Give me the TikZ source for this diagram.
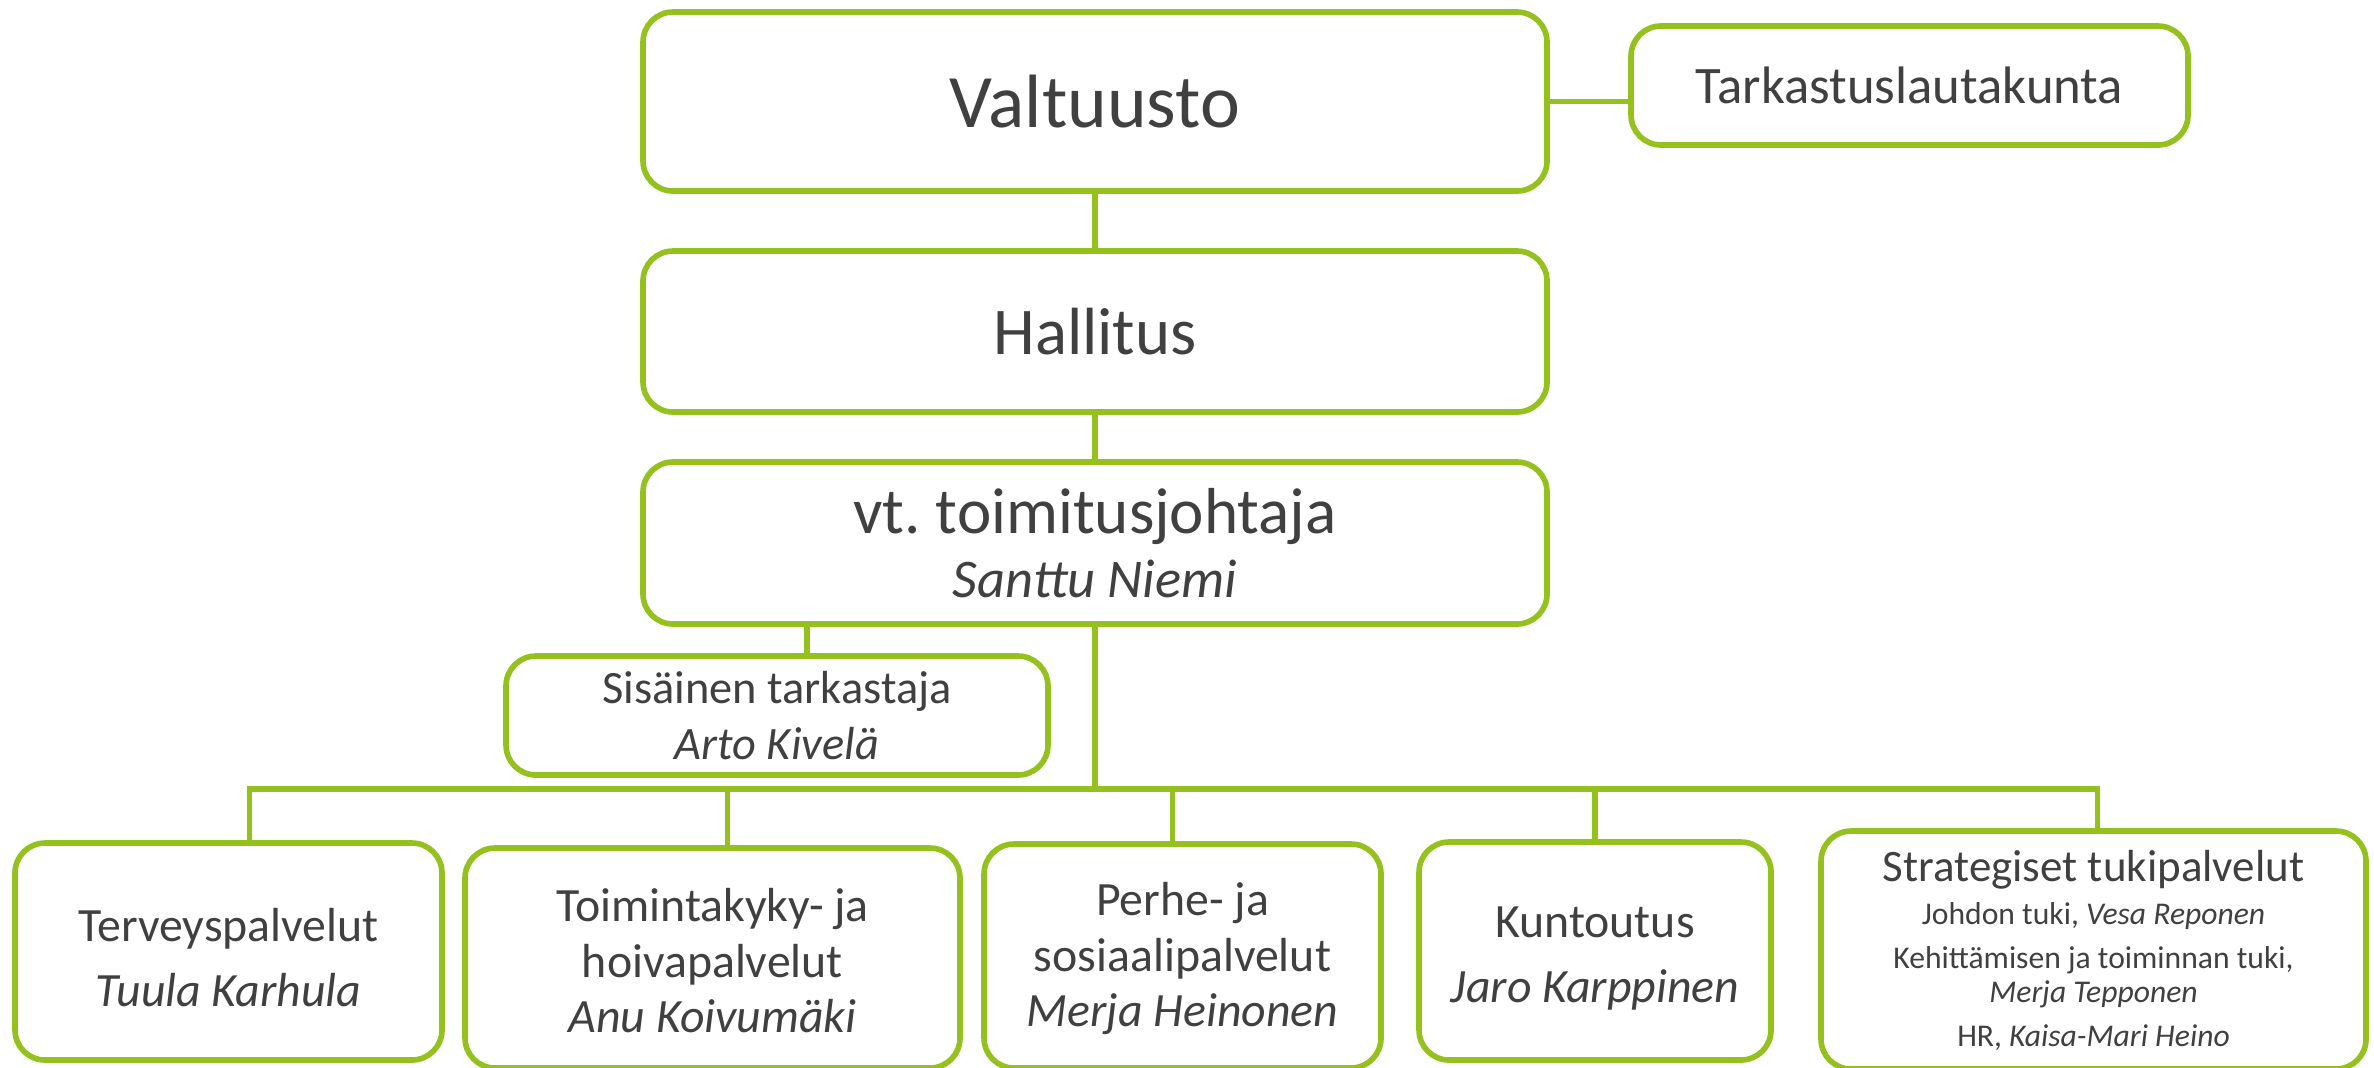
\documentclass[tikz,border=0pt]{standalone}
\usepackage{fontspec}
\setmainfont{Carlito}
\usepackage{tikz}
\usetikzlibrary{positioning}
\definecolor{orggreen}{RGB}{149,193,31}
\definecolor{orgtext}{RGB}{64,64,64}
\frenchspacing

\begin{document}
\begin{tikzpicture}[
    orgbox/.style={draw=orggreen, line width=1.6pt, rounded corners=0.3cm,
      fill=white, align=center, text=orgtext, inner sep=0pt},
    link/.style={draw=orggreen, line width=1.6pt}
  ]
  \useasboundingbox (0,0) rectangle (23.74,-10.67);

  % council, board and managing director
  \node[orgbox, minimum width=9.04cm, minimum height=1.79cm,
    font=\fontsize{21.5}{25}\selectfont] (val) at (10.95,-1.015) {Valtuusto};
  \node[orgbox, minimum width=5.57cm, minimum height=1.19cm,
    font=\fontsize{15}{18}\selectfont] (tar) at (19.095,-0.855) {Tarkastuslautakunta};
  \node[orgbox, minimum width=9.04cm, minimum height=1.61cm,
    font=\fontsize{19}{23}\selectfont] (hal) at (10.95,-3.315) {Hallitus};
  \node[orgbox, minimum width=9.04cm, minimum height=1.62cm,
    font=\fontsize{18.5}{18}\selectfont] (vtj) at (10.95,-5.43)
    {vt. toimitusjohtaja\\{\fontsize{15.5}{18}\selectfont\textit{Santtu Niemi}}};

  % internal auditor
  \node[orgbox, minimum width=5.42cm, minimum height=1.19cm,
    font=\fontsize{13.2}{16}\selectfont] (sis) at (7.77,-7.155)
    {Sisäinen tarkastaja\\\textit{Arto Kivelä}};

  % service areas
  \node[orgbox, minimum width=4.27cm, minimum height=2.17cm,
    font=\fontsize{13.6}{18.5}\selectfont] (ter) at (2.285,-9.515)
    {\strut Terveyspalvelut\\\textit{Tuula Karhula}};
  \node[orgbox, minimum width=4.95cm, minimum height=2.2cm,
    font=\fontsize{13.6}{15.8}\selectfont] (toi) at (7.125,-9.58)
    {\strut Toimintakyky- ja\\hoivapalvelut\\\textit{Anu Koivumäki}};
  \node[orgbox, minimum width=3.97cm, minimum height=2.24cm,
    font=\fontsize{13.6}{15.8}\selectfont] (per) at (11.825,-9.56)
    {\strut Perhe- ja\\sosiaalipalvelut\\\textit{Merja Heinonen}};
  \node[orgbox, minimum width=3.52cm, minimum height=2.18cm,
    font=\fontsize{13.6}{18.5}\selectfont] (kun) at (15.95,-9.51)
    {\strut Kuntoutus\\\textit{Jaro Karppinen}};
  \node[orgbox, minimum width=5.45cm, minimum height=2.38cm,
    font=\fontsize{9}{9.5}\selectfont] (str) at (20.935,-9.5)
    {{\fontsize{12.8}{14}\selectfont Strategiset tukipalvelut}\\[3pt]
     Johdon tuki, \textit{Vesa Reponen}\\[3pt]
     Kehittämisen ja toiminnan tuki,\\\textit{Merja Tepponen}\\[3pt]
     HR, \textit{Kaisa-Mari Heino}};

  % connectors
  \draw[link] (val.east) -- (val.east -| tar.west);
  \draw[link] (val) -- (hal);
  \draw[link] (hal) -- (vtj);
  \draw[link] ([xshift=3mm]sis.north) -- ([xshift=3mm]sis.north |- vtj.south);

  \coordinate (bus) at (10.95,-7.89);
  \draw[link] (vtj.south) -- (bus);
  \foreach \n/\dx in {ter/2.1mm, toi/1.5mm, per/-1mm, kun/0mm, str/0.4mm}
    \draw[link] ([xshift=\dx]\n.north) |- (bus);
\end{tikzpicture}
\end{document}
